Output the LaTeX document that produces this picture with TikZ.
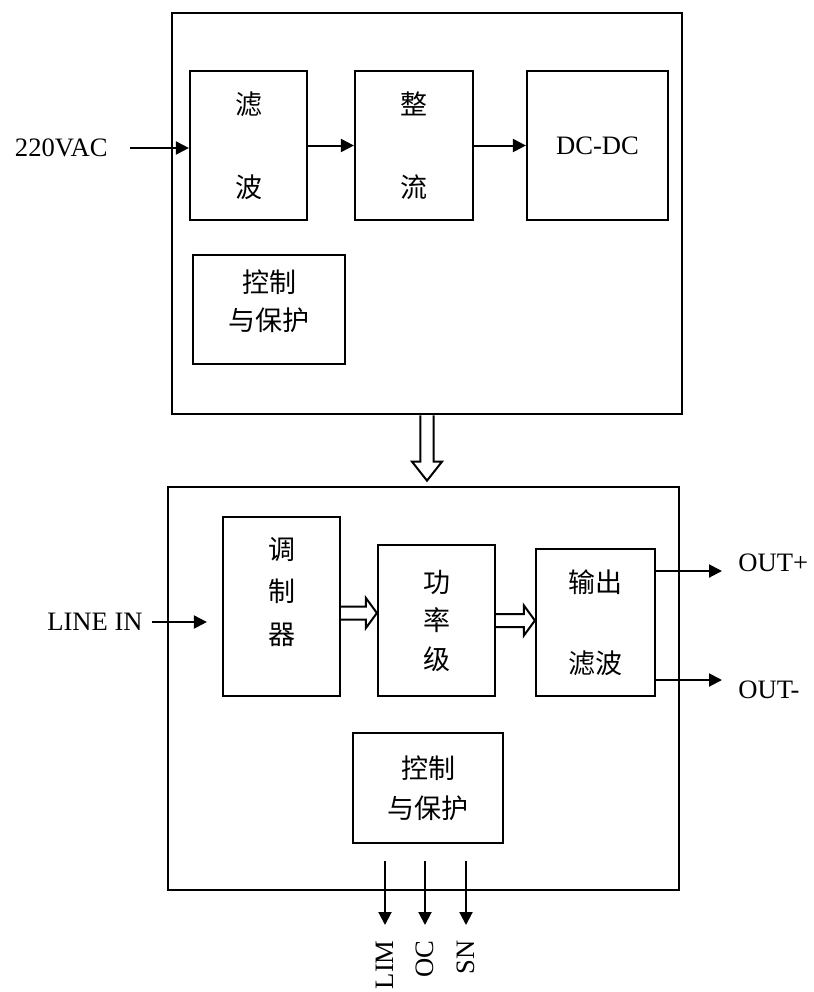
\documentclass[tikz,border=0pt]{standalone}
\usepackage{fontspec}
\setmainfont{Liberation Serif}
\newfontfamily\cjk{Noto Sans CJK SC}
\usetikzlibrary{arrows.meta,calc}

\tikzset{
    outer/.style={draw, line width=1.35pt, inner sep=0pt},
    blk/.style={draw, line width=1.1pt, inner sep=0pt},
    cn/.style={font=\cjk\fontsize{13.5}{#1}\selectfont, align=center},
    lat/.style={font=\fontsize{13.3}{16}\selectfont},
    lbl/.style={lat, inner sep=0pt},
    arr/.style={line width=1pt, -{Triangle[length=6.5pt,width=6.5pt]}},
    hollow/.style={line width=1pt, line join=miter}
}

% hollow block arrows: start point, tip point
\newcommand{\hollowright}[2]{%
    \draw [hollow] let \p1=(#1), \p2=(#2) in
        (\x1,\y1+3.25pt) -- (\x2-5.5pt,\y1+3.25pt) -- (\x2-5.5pt,\y1+7.5pt)
        -- (\x2,\y1) -- (\x2-5.5pt,\y1-7.5pt) -- (\x2-5.5pt,\y1-3.25pt) -- (\x1,\y1-3.25pt);}
\newcommand{\hollowdown}[2]{%
    \draw [hollow] let \p1=(#1), \p2=(#2) in
        (\x1-3.3pt,\y1) -- (\x1-3.3pt,\y2+9.5pt) -- (\x1-7.5pt,\y2+9.5pt)
        -- (\x1,\y2) -- (\x1+7.5pt,\y2+9.5pt) -- (\x1+3.3pt,\y2+9.5pt) -- (\x1+3.3pt,\y1);}

\begin{document}
\begin{tikzpicture}[x=0.5pt, y=-0.5pt]
    \useasboundingbox (0,0) rectangle (814,992);

    % Nodes {power supply}
    \node [outer, minimum width=255pt, minimum height=200.5pt]  (psu)   at (427,213.5)   {};
    \node [blk, cn=41.5, minimum width=58.5pt, minimum height=74.5pt] (filt) at (248.5,145.5) {滤\\波};
    \node [blk, cn=41.5, minimum width=59pt, minimum height=74.5pt]   (rect) at (414,145.5)   {整\\流};
    \node [blk, lat, minimum width=70.5pt, minimum height=74.5pt]     (dcdc) at (597.5,145.5) {DC-DC};
    \node [blk, minimum width=76pt, minimum height=54.5pt,
           label={[cn=19, yshift=4.25pt]center:{控制\\与保护}}]      (ctrlA) at (269,309.5) {};

    % Nodes {amplifier}
    \node [outer, minimum width=255.5pt, minimum height=201.5pt] (amp)  at (423.5,688.5) {};
    \node [blk, minimum width=58.5pt, minimum height=89.5pt,
           label={[cn=21.25, yshift=7.25pt]center:{调\\制\\器}}]    (mod)  at (281.5,606.5) {};
    \node [blk, cn=19.25, minimum width=58.5pt, minimum height=75.5pt] (pwr)  at (436.5,620.5) {功\\率\\级};
    \node [blk, cn=40.5, minimum width=59.5pt, minimum height=73.5pt]  (outf) at (595.5,622.5) {输出\\滤波};
    \node [blk, cn=20, minimum width=75pt, minimum height=55pt]        (ctrlB) at (428,788)   {控制\\与保护};

    % Nodes {terminals}
    \node [lbl, anchor=east]            (vac)    at (108,148) {220VAC};
    \node [lbl, anchor=east]            (linein) at (143,622) {LINE IN};
    \node [lbl, anchor=base west]       (outp)   at (738,571) {OUT+};
    \node [lbl, anchor=north west]      (outm)   at (738,680) {OUT-};
    \node [lbl, rotate=90, anchor=east] (lim)    at (385,940) {LIM};
    \node [lbl, rotate=90, anchor=east] (oc)     at (425,940) {OC};
    \node [lbl, rotate=90, anchor=east] (sn)     at (466,940) {SN};

    % Paths
    \path [arr] ([xshift=11pt]vac.east) edge (vac.east -| filt.west);
    \path [arr] (filt) edge (rect);
    \path [arr] (rect) edge (dcdc);

    \path [arr] ([xshift=4.5pt]linein.east) edge ($(linein.east -| mod.west)+(-15,0)$);
    \path [arr] (outf.east |- outp.base west) edge ([xshift=-8pt]outp.base west);
    \path [arr] (outf.east |- outm.north west) edge ([xshift=-8pt]outm.north west);

    \path [arr] ($(lim.east |- ctrlB.south)+(0,17)$) edge ([yshift=7.5pt]lim.east);
    \path [arr] ($(oc.east |- ctrlB.south)+(0,17)$)  edge ([yshift=7.5pt]oc.east);
    \path [arr] ($(sn.east |- ctrlB.south)+(0,17)$)  edge ([yshift=7.5pt]sn.east);

    % Hollow arrows
    \hollowdown{psu.south}{$(amp.north)+(0,-5)$}
    \hollowright{$(mod.east)+(0,6.5)$}{pwr.west}
    \hollowright{pwr.east}{outf.west}
\end{tikzpicture}
\end{document}
